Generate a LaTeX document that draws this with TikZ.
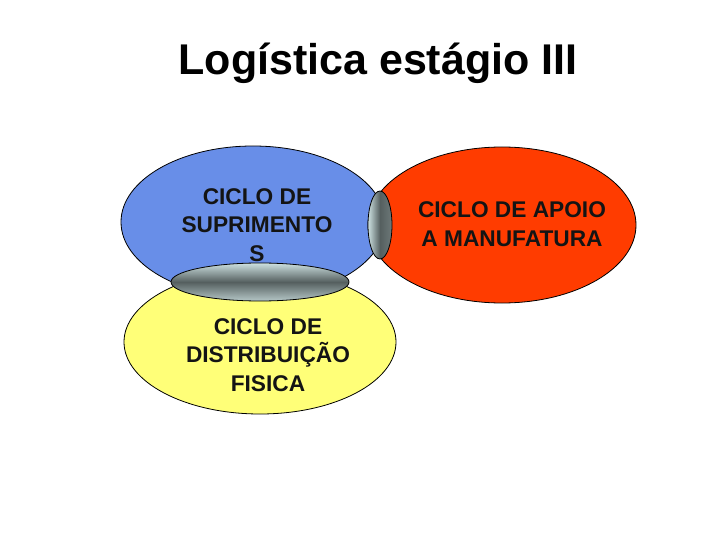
\documentclass[tikz,border=0pt]{standalone}
\usepackage{fontspec}
\setmainfont{Liberation Sans}
\definecolor{cblue}{RGB}{104,142,232}
\definecolor{cred}{RGB}{255,60,0}
\definecolor{cyel}{RGB}{255,255,120}
\definecolor{glight}{RGB}{205,225,225}
\definecolor{gdark}{RGB}{85,95,95}
\begin{document}
\begin{tikzpicture}[x=1pt,y=-1pt,
  ell/.style={draw=black,line width=0.8pt},
  lbl/.style={align=center,font=\fontsize{22.7}{28.5}\selectfont\bfseries,text=black!92,inner sep=0pt},
  hshade/.style={ell,top color=glight,bottom color=glight!80!gdark,middle color=gdark},
  vshade/.style={ell,left color=glight,right color=gdark!80!glight,middle color=gdark}]
\useasboundingbox (0,0) rectangle (720,540);
\node[font=\fontsize{43}{50}\selectfont\bfseries,anchor=base] (title) at (378,75) {Logística estágio III};
\draw[ell,fill=cyel] (260,342) ellipse [x radius=136,y radius=72];
\draw[ell,fill=cblue] (253,222) ellipse [x radius=132,y radius=76];
\draw[ell,fill=cred] (502,225) ellipse [x radius=134,y radius=78];
\draw[hshade] (260,282) ellipse [x radius=89,y radius=19];
\draw[vshade] (380,225) ellipse [x radius=12,y radius=34];
\node[lbl] (sup) at (257,225) {CICLO DE\\SUPRIMENTO\\S};
\node[lbl] (dist) at (268,355) {CICLO DE\\DISTRIBUIÇÃO\\FISICA};
\node[lbl] (apoio) at (512,224) {CICLO DE APOIO\\A MANUFATURA};
\end{tikzpicture}
\end{document}
